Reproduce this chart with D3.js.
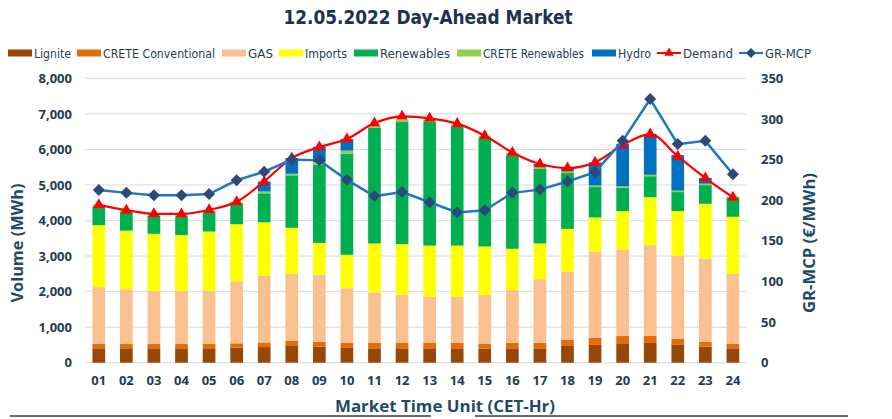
<!DOCTYPE html>
<html><head><meta charset="utf-8">
<script src="https://cdn.jsdelivr.net/npm/d3@7"></script>
<style>
html,body{margin:0;padding:0;background:#fff;}
svg{display:block;}
</style></head>
<body>
<svg id="c" width="892" height="419"></svg>
<script>
// ---------- DATA ----------
const hours = ["01","02","03","04","05","06","07","08","09","10","11","12","13","14","15","16","17","18","19","20","21","22","23","24"];
const lignite      = [405,405,405,405,405,425,440,470,450,415,405,405,405,405,400,405,405,470,500,525,555,500,450,405];
const creteConv    = [120,120,120,120,120,120,130,140,140,150,160,160,160,160,135,155,155,180,205,225,205,175,140,120];
const gas          = [1600,1540,1495,1495,1495,1745,1870,1890,1890,1530,1410,1350,1285,1285,1370,1480,1790,1915,2420,2425,2545,2340,2340,1975];
const imports      = [1745,1650,1605,1570,1670,1605,1510,1295,890,940,1380,1420,1445,1445,1365,1165,1005,1200,960,1090,1350,1250,1540,1605];
const renewables   = [525,520,515,525,535,575,815,1475,2200,2845,3250,3435,3475,3335,3040,2630,2110,1570,855,655,590,535,525,545];
const creteRen     = [55,55,50,50,55,55,50,45,75,85,65,70,70,65,70,70,55,50,45,40,40,40,40,30];
const hydro        = [0,0,0,0,0,0,280,440,430,330,0,0,0,0,0,0,70,90,650,1200,1150,1000,165,0];
const demand       = [4440,4290,4190,4185,4300,4525,5100,5755,6065,6290,6740,6930,6875,6725,6385,5915,5590,5475,5635,6120,6430,5805,5195,4655];
const grMcp        = [212.5,209,206,206,207.5,224.5,235,250,249,225,205,210,197.5,185,187.5,209,213,223,234.5,273,324.5,269,273,232];
const volTicks     = [0,1000,2000,3000,4000,5000,6000,7000,8000];
const priceTicks   = [0,50,100,150,200,250,300,350];

const seriesNames  = ["Lignite","CRETE Conventional","GAS","Imports","Renewables","CRETE Renewables","Hydro"];
const seriesData   = [lignite,creteConv,gas,imports,renewables,creteRen,hydro];
const seriesColors = ["#974706","#e46c0a","#fac090","#ffff00","#00b050","#92d050","#0070c0"];

// ---------- LAYOUT ----------
const svg = d3.select("#c");
const plot = {x0:85, x1:746.7, y0:78.3, y1:362.7};
const tickColor = "#243b53", titleColor = "#1f4a68";

const x = d3.scaleBand().domain(hours).range([plot.x0, plot.x1]).paddingInner(0.54).paddingOuter(0.27);
const y = d3.scaleLinear().domain([0,8000]).range([plot.y1, plot.y0]);
const y2 = d3.scaleLinear().domain([0,350]).range([plot.y1, plot.y0]);

// grid
svg.append("g").selectAll("line").data(volTicks).join("line")
  .attr("x1",plot.x0).attr("x2",plot.x1)
  .attr("y1",d=>y(d)).attr("y2",d=>y(d))
  .attr("stroke","#d9d9d9").attr("stroke-width",1);

// left axis
const yAxis = svg.append("g").attr("transform","translate(72,0)")
  .call(d3.axisLeft(y).tickValues(volTicks).tickSize(0).tickPadding(0).tickFormat(d3.format(",")));
yAxis.select(".domain").remove();
yAxis.selectAll("text").attr("font-family","'Open Sans',sans-serif").attr("font-weight",700)
  .attr("font-size",13).attr("fill",tickColor);

// right axis
const y2Axis = svg.append("g").attr("transform","translate(761,0)")
  .call(d3.axisRight(y2).tickValues(priceTicks).tickSize(0).tickPadding(0));
y2Axis.select(".domain").remove();
y2Axis.selectAll("text").attr("font-family","'Open Sans',sans-serif").attr("font-weight",700)
  .attr("font-size",13).attr("fill",tickColor);

// bottom axis
const xAxis = svg.append("g").attr("transform",`translate(0,${plot.y1+13})`)
  .call(d3.axisBottom(x).tickSize(0).tickPadding(0));
xAxis.select(".domain").remove();
xAxis.selectAll("text").attr("font-family","'Open Sans',sans-serif").attr("font-weight",700)
  .attr("font-size",13).attr("fill",tickColor);

// stacked bars
const table = hours.map((h,i)=>{const o={hour:h}; seriesNames.forEach((n,k)=>o[n]=seriesData[k][i]); return o;});
const stack = d3.stack().keys(seriesNames)(table);
svg.append("g").selectAll("g").data(stack).join("g")
  .attr("fill",(d,i)=>seriesColors[i])
  .selectAll("rect").data(d=>d).join("rect")
  .attr("x",d=>x(d.data.hour)).attr("width",x.bandwidth())
  .attr("y",d=>y(d[1])).attr("height",d=>Math.max(0,y(d[0])-y(d[1])));

// demand line
const cx = h=>x(h)+x.bandwidth()/2;
svg.append("path").datum(demand)
  .attr("d",d3.line().x((d,i)=>cx(hours[i])).y(d=>y(d)).curve(d3.curveMonotoneX))
  .attr("fill","none").attr("stroke","#ff0000").attr("stroke-width",2.2);
svg.append("g").selectAll("path").data(demand).join("path")
  .attr("d",d3.symbol().type(d3.symbolTriangle).size(55))
  .attr("transform",(d,i)=>`translate(${cx(hours[i])},${y(d)})`)
  .attr("fill","#ff0000");

// GR-MCP line
svg.append("path").datum(grMcp)
  .attr("d",d3.line().x((d,i)=>cx(hours[i])).y(d=>y2(d)))
  .attr("fill","none").attr("stroke","#1f77c4").attr("stroke-width",2.5);
const dia = r=>`M0,${-r}L${r},0L0,${r}L${-r},0Z`;
svg.append("g").selectAll("path").data(grMcp).join("path")
  .attr("d",dia(6))
  .attr("transform",(d,i)=>`translate(${cx(hours[i])},${y2(d)})`)
  .attr("fill","#2d4a76");

// titles
svg.append("text").attr("x",428).attr("y",24).attr("text-anchor","middle")
  .attr("font-family","'DejaVu Sans Condensed','DejaVu Sans',sans-serif").attr("font-weight",700)
  .attr("font-size",19).attr("fill","#1f3150")
  .attr("textLength",289).attr("lengthAdjust","spacingAndGlyphs")
  .text("12.05.2022  Day-Ahead Market");

svg.append("text").attr("transform","translate(23,243) rotate(-90)").attr("text-anchor","middle")
  .attr("font-family","'Open Sans',sans-serif").attr("font-weight",700).attr("font-size",16.5)
  .attr("fill",titleColor).attr("textLength",119).attr("lengthAdjust","spacingAndGlyphs")
  .text("Volume (MWh)");

svg.append("text").attr("transform","translate(815,243) rotate(-90)").attr("text-anchor","middle")
  .attr("font-family","'Open Sans',sans-serif").attr("font-weight",700).attr("font-size",16.5)
  .attr("fill",titleColor).attr("textLength",140).attr("lengthAdjust","spacingAndGlyphs")
  .text("GR-MCP (€/MWh)");

svg.append("text").attr("x",445).attr("y",412).attr("text-anchor","middle")
  .attr("font-family","'Open Sans',sans-serif").attr("font-weight",700).attr("font-size",16.5)
  .attr("fill",titleColor).attr("textLength",220).attr("lengthAdjust","spacingAndGlyphs")
  .text("Market Time Unit (CET-Hr)");

// bottom rule
svg.append("line").attr("x1",10).attr("x2",431).attr("y1",416).attr("y2",416).attr("stroke","#2c3e50").attr("stroke-width",1.5);
svg.append("line").attr("x1",475).attr("x2",848).attr("y1",416).attr("y2",416).attr("stroke","#2c3e50").attr("stroke-width",1.5);

// legend
const legendNames = seriesNames.concat(["Demand","GR-MCP"]);
const legendX  = [8,77,222,279,354,457,592,657,739];
const legendTW = [37,112,25,42,70,101,33,50,46];
const ly = 53;
const lg = svg.append("g");
legendNames.forEach((n,i)=>{
  const x0 = legendX[i];
  if(i<7){
    lg.append("rect").attr("x",x0).attr("y",ly-3.5).attr("width",24).attr("height",7).attr("fill",seriesColors[i]);
  } else if(n==="Demand"){
    lg.append("line").attr("x1",x0).attr("x2",x0+24).attr("y1",ly).attr("y2",ly).attr("stroke","#ff0000").attr("stroke-width",2);
    lg.append("path").attr("d",d3.symbol().type(d3.symbolTriangle).size(40)).attr("transform",`translate(${x0+12},${ly})`).attr("fill","#ff0000");
  } else {
    lg.append("line").attr("x1",x0).attr("x2",x0+24).attr("y1",ly).attr("y2",ly).attr("stroke","#1f77c4").attr("stroke-width",2.2);
    lg.append("path").attr("d",dia(5)).attr("transform",`translate(${x0+12},${ly})`).attr("fill","#2d4a76");
  }
  lg.append("text").attr("x",x0+26).attr("y",ly+4.5)
    .attr("font-family","'DejaVu Sans Condensed','DejaVu Sans',sans-serif").attr("font-size",13)
    .attr("fill","#2a3c50").attr("textLength",legendTW[i]).attr("lengthAdjust","spacingAndGlyphs")
    .text(n);
});
</script>
</body></html>
